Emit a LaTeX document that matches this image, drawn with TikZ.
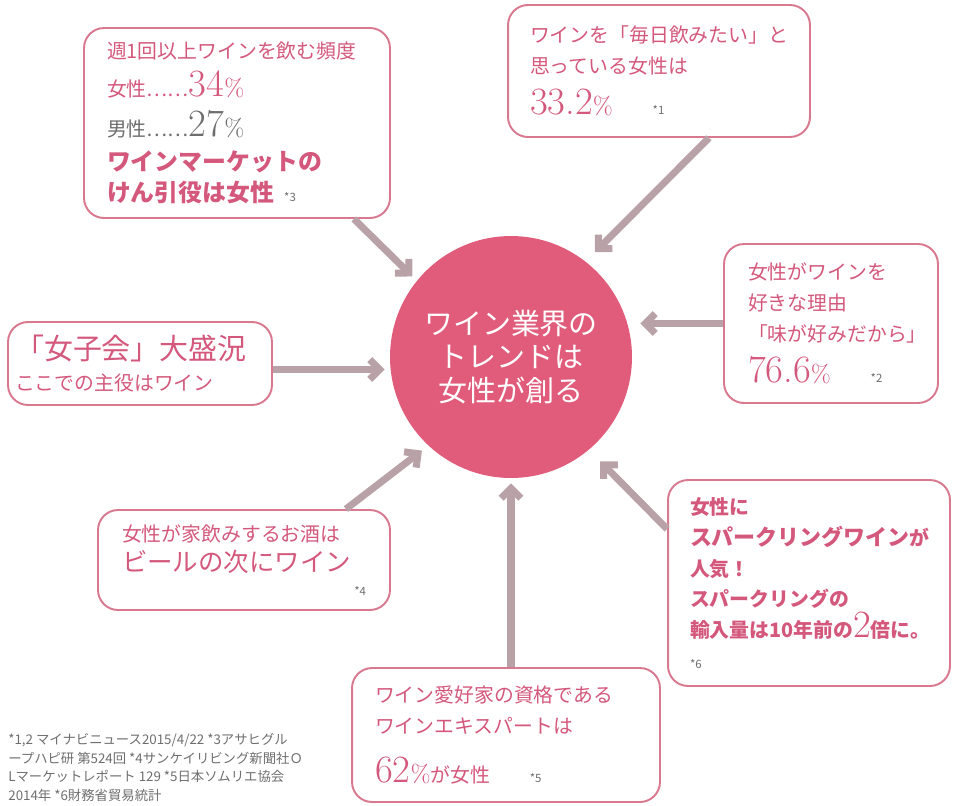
\documentclass[tikz,border=0pt]{standalone}
\usepackage{fontspec}
\newfontfamily\jp{Noto Sans CJK JP}
\usetikzlibrary{arrows.meta}
\definecolor{pinkT}{HTML}{D4587C}
\definecolor{boxB}{HTML}{D87990}
\definecolor{circF}{HTML}{E15B7B}
\definecolor{arrC}{HTML}{B8A2A8}
\definecolor{grayT}{HTML}{6E6E6E}
\newcommand\jpM{\jp\fontsize{11.3}{17.5}\selectfont}
\newcommand\jpB{\jp\bfseries\fontsize{13.6}{18.7}\selectfont}
\newcommand\jpX{\jp\fontsize{16.5}{20}\selectfont}
\newcommand\numL{\rmfamily\mdseries\fontsize{22}{22}\selectfont}
\newcommand\pct{{\rmfamily\mdseries\fontsize{14}{14}\selectfont\%}}
\newcommand\fnmark[1]{{\jp\mdseries\fontsize{6.5}{6.5}\selectfont\color{grayT}*#1}}

\begin{document}
\begin{tikzpicture}[x=0.02cm,y=-0.02cm,
  infobox/.style={draw=boxB, line width=1.1pt, rounded corners=0.4cm, fill=white,
    text=pinkT, font=\jpM, align=left},
  arr/.style={draw=arrC, line width=4pt, -{Straight Barb[angle=90:8pt,sharp]}}]

  \useasboundingbox (0,0) rectangle (953,805);

  \node [circle, fill=circF, minimum size=4.84cm, text=white, align=center,
    font=\jp\fontsize{16.5}{19.3}\selectfont] (trend) at (511,357)
    {ワイン業界の\\トレンドは\\女性が創る};

  \node [infobox, text width=5.2cm, inner xsep=0.46cm, minimum height=3.8cm] (freq) at (237,123)
    {週1回以上ワインを飲む頻度\\[4pt]
     女性……{\numL 34}\pct\\[5pt]
     {\color{grayT}男性……{\numL 27}\pct}\\[2pt]
     {\jpB ワインマーケットの}\\
     {\jpB けん引役は女性}\enspace\fnmark{3}};

  \node [infobox, text width=5.16cm, inner xsep=0.44cm, minimum height=2.64cm] (daily) at (659,71)
    {ワインを「毎日飲みたい」と\\
     思っている女性は\\[6pt]
     {\numL 33.2}\pct\qquad\fnmark{1}};

  \node [infobox, text width=3.32cm, inner xsep=0.48cm, minimum height=3.18cm] (reason) at (831,323.5)
    {女性がワインを\\
     好きな理由\\
     「味が好みだから」\\[6pt]
     {\numL 76.6}\pct\qquad\fnmark{2}};

  \node [infobox, text width=5.0cm, inner xsep=0.14cm, minimum height=1.66cm] (joshi) at (140,363.5)
    {{\jpX 「女子会」大盛況}\\
     ここでの主役はワイン};

  \node [infobox, text width=4.76cm, inner xsep=0.44cm, minimum height=4.12cm] (sparkle) at (809,583)
    {{\bfseries 女性に}\\
     {\jp\bfseries\fontsize{12.5}{18.7}\selectfont スパークリングワイン}{\bfseries が}\\
     {\bfseries 人気！}\\
     {\bfseries スパークリングの}\\
     {\bfseries 輸入量は10年前の}{\numL 2}{\bfseries 倍に。}\\
     \fnmark{6}};

  \node [infobox, text width=4.88cm, inner xsep=0.48cm, minimum height=2.0cm] (home) at (244,560)
    {女性が家飲みするお酒は\\
     {\jp\fontsize{14.5}{18}\selectfont ビールの次にワイン}\\[-4pt]
     \hskip0pt plus1fill\fnmark{4}};

  \node [infobox, text width=5.24cm, inner xsep=0.46cm, minimum height=2.68cm] (expert) at (506,735)
    {ワイン愛好家の資格である\\
     ワインエキスパートは\\[10pt]
     {\numL 62}\pct が女性\qquad\fnmark{5}};

  \node [anchor=north west, inner sep=0pt, align=left, text=grayT,
    font=\jp\fontsize{7.6}{10.6}\selectfont] (refs) at (8,733)
    {*1,2 マイナビニュース2015/4/22 *3アサヒグル\\
     ープハピ研 第524回 *4サンケイリビング新聞社Ｏ\\
     Lマーケットレポート 129 *5日本ソムリエ協会\\
     2014年 *6財務省貿易統計};

  \draw [arr, shorten >=0.12cm] ([xshift=-0.74cm]freq.south east) -- (trend.141.7);
  \draw [arr, shorten >=0.26cm] ([xshift=-2.04cm]daily.south east) -- (trend.52.9);
  \draw [arr, shorten >=0.16cm] (reason.west) -- (reason.west -| trend.east);
  \draw [arr, shorten >=0.1cm] ([yshift=-0.12cm]joshi.east) -- ([yshift=-0.12cm]joshi.east -| trend.west);
  \draw [arr, shorten >=0.16cm] ([xshift=-0.9cm]home.north east) -- (trend.227.5);
  \draw [arr, shorten >=0.1cm] (expert.north -| trend) -- (trend.south);
  \draw [arr, shorten >=0.32cm] ([yshift=-1.0cm]sparkle.north west) -- (trend.-50);
\end{tikzpicture}
\end{document}
